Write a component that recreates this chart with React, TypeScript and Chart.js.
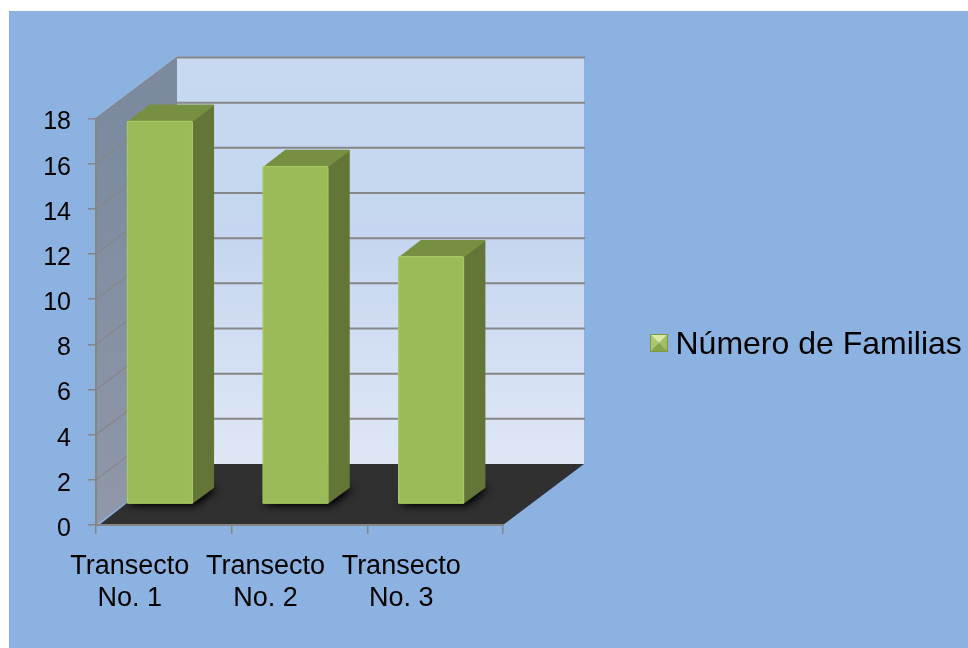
import React, { useEffect, useRef } from "react";
import { Chart, registerables } from "chart.js";

Chart.register(...registerables);

const categories = [["Transecto", "No. 1"], ["Transecto", "No. 2"], ["Transecto", "No. 3"]];
const seriesName = "Número de Familias";
const familias = [17, 15, 11];
const yMin = 0;
const yMax = 18;
const yStep = 2;

const W = 968;
const H = 648;
const FONT = '"Liberation Sans", Arial, sans-serif';
const AREA = { left: 96, right: 503, top: 118.5, bottom: 525 };
const WALL = { dx: 81, dy: -61 };
const BAR_SHIFT = { dx: -4, dy: -20.5 };
const BAR_DEPTH = { dx: 21, dy: -16 };
const LEGEND_POS = { left: 643.5, top: 314.5 };
const GRID = "#868686";

function makeSwatch() {
  const c = document.createElement("canvas");
  c.width = 18;
  c.height = 23;
  const g = c.getContext("2d")!;
  const tri = (pts: number[][], col: string) => {
    g.fillStyle = col;
    g.beginPath();
    pts.forEach((p, i) => (i ? g.lineTo(p[0], p[1]) : g.moveTo(p[0], p[1])));
    g.closePath();
    g.fill();
  };
  tri([[0, 0], [18, 0], [9, 9]], "#dbe9a6");
  tri([[0, 0], [0, 18], [9, 9]], "#acc76c");
  tri([[18, 0], [18, 18], [9, 9]], "#a3be62");
  tri([[0, 18], [18, 18], [9, 9]], "#87a548");
  g.strokeStyle = "#7d9a42";
  g.lineWidth = 1;
  g.strokeRect(0.5, 0.5, 17, 17);
  return c;
}

function poly(ctx: CanvasRenderingContext2D, pts: number[][], fill: string | CanvasGradient) {
  ctx.fillStyle = fill;
  ctx.beginPath();
  pts.forEach((p, i) => (i ? ctx.lineTo(p[0], p[1]) : ctx.moveTo(p[0], p[1])));
  ctx.closePath();
  ctx.fill();
}

const scene3d = {
  id: "scene3d",
  afterLayout(chart: any) {
    const l = chart.legend;
    if (!l) return;
    const w = l.width;
    const h = l.height;
    l.left = LEGEND_POS.left;
    l.top = LEGEND_POS.top;
    l.right = LEGEND_POS.left + w + 10;
    l.bottom = LEGEND_POS.top + h + 10;
  },
  beforeDraw(chart: any) {
    const ctx: CanvasRenderingContext2D = chart.ctx;
    const a = chart.chartArea;
    const ys = chart.scales.y;
    const { dx, dy } = WALL;
    ctx.save();
    ctx.fillStyle = "#8cb2e2";
    ctx.fillRect(9, 11, W - 9, H - 11);

    const back = ctx.createLinearGradient(0, a.top + dy, 0, a.bottom + dy);
    back.addColorStop(0, "#c6d9f1");
    back.addColorStop(0.45, "#c6d6f0");
    back.addColorStop(1, "#dfe7f5");
    poly(ctx, [[a.left + dx, a.top + dy], [a.right + dx, a.top + dy], [a.right + dx, a.bottom + dy], [a.left + dx, a.bottom + dy]], back);

    const side = ctx.createLinearGradient(0, a.top, 0, a.bottom);
    side.addColorStop(0, "#7b8a9e");
    side.addColorStop(1, "#9098a9");
    poly(ctx, [[a.left, a.top], [a.left + dx, a.top + dy], [a.left + dx, a.bottom + dy], [a.left, a.bottom]], side);

    poly(ctx, [[a.left + 3, a.bottom], [a.right, a.bottom], [a.right + dx, a.bottom + dy], [a.left + dx, a.bottom + dy]], "#303030");

    ys.ticks.forEach((t: any) => {
      const y = ys.getPixelForValue(t.value);
      ctx.strokeStyle = GRID;
      if (t.value !== yMin) {
        ctx.lineWidth = 1.2;
        ctx.beginPath();
        ctx.moveTo(a.left, y);
        ctx.lineTo(a.left + dx, y + dy);
        ctx.stroke();
        ctx.lineWidth = 2;
        ctx.beginPath();
        ctx.moveTo(a.left + dx, y + dy);
        ctx.lineTo(a.right + dx + 1, y + dy);
        ctx.stroke();
      }
    });
    ctx.restore();
  },
  beforeDatasetDraw(chart: any, args: any) {
    const ctx: CanvasRenderingContext2D = chart.ctx;
    const a = chart.chartArea;
    const { dx, dy } = BAR_DEPTH;
    const bars = args.meta.data;

    // soft contact shadows, on the floor only
    ctx.save();
    ctx.beginPath();
    ctx.moveTo(a.left, a.bottom);
    ctx.lineTo(a.right, a.bottom);
    ctx.lineTo(a.right + WALL.dx, a.bottom + WALL.dy);
    ctx.lineTo(a.left + WALL.dx, a.bottom + WALL.dy);
    ctx.closePath();
    ctx.clip();
    ctx.translate(BAR_SHIFT.dx, BAR_SHIFT.dy);
    ctx.shadowColor = "rgba(0,0,0,0.95)";
    ctx.shadowBlur = 8;
    ctx.shadowOffsetX = 2;
    bars.forEach((b: any) => {
      const l = b.x - b.width / 2;
      const r = b.x + b.width / 2;
      const q = [[l, b.base], [r, b.base], [r + dx, b.base + dy], [l + dx, b.base + dy]];
      poly(ctx, q, "#222222");
      poly(ctx, q, "#222222");
    });
    ctx.restore();

    ctx.save();
    ctx.translate(BAR_SHIFT.dx, BAR_SHIFT.dy);
    bars.forEach((b: any) => {
      const l = b.x - b.width / 2;
      const r = b.x + b.width / 2;
      poly(ctx, [[r - 1, b.y], [r + dx, b.y + dy], [r + dx, b.base + dy], [r - 1, b.base]], "#647637");
      poly(ctx, [[l + 1, b.y + 1], [l + dx + 2, b.y + dy], [r + dx - 1, b.y + dy], [r + dx, b.y + dy + 1], [r, b.y + 1]], "#768f40");
      poly(ctx, [[l + 1, b.y + 1], [r - 1, b.y + 1], [r - 1, b.base], [l + 1, b.base]], "#9bbb59");
    });
  },
  afterDatasetDraw(chart: any) {
    chart.ctx.restore();
  },
};

export default function App() {
  const ref = useRef<HTMLCanvasElement>(null);
  useEffect(() => {
    const chart = new Chart(ref.current!, {
      type: "bar",
      data: {
        labels: categories,
        datasets: [
          {
            label: seriesName,
            data: familias,
            backgroundColor: "#9bbb59",
            borderColor: "#a6ca62",
            borderWidth: 1.5,
            borderSkipped: false,
            borderRadius: { topLeft: 2, topRight: 2, bottomLeft: 0, bottomRight: 0 },
            barPercentage: 0.49,
            categoryPercentage: 1,
            clip: false,
          } as any,
        ],
      },
      plugins: [scene3d as any],
      options: {
        responsive: false,
        animation: false,
        layout: { padding: { left: 0, top: AREA.top, right: W - AREA.right, bottom: 0 } },
        scales: {
          x: {
            grid: { display: true, drawOnChartArea: false, drawTicks: true, tickLength: 9, color: GRID, lineWidth: 1.5, offset: true },
            border: { display: true, color: GRID, width: 2 },
            ticks: { color: "#000000", font: { family: FONT, size: 27 }, padding: 16, labelOffset: -34, maxRotation: 0, minRotation: 0, autoSkip: false },
            afterFit: (s: any) => { s.height = H - AREA.bottom; },
          } as any,
          y: {
            min: yMin,
            max: yMax,
            grid: { display: true, drawOnChartArea: false, drawTicks: true, tickLength: 8, color: GRID, lineWidth: 1.5 },
            border: { display: true, color: GRID, width: 2 },
            ticks: { stepSize: yStep, color: "#000000", font: { family: FONT, size: 25 }, padding: 17, labelOffset: 4 },
            afterFit: (s: any) => { s.width = AREA.left; },
          } as any,
        },
        plugins: {
          title: { display: false },
          tooltip: { enabled: false },
          legend: {
            display: true,
            position: "chartArea",
            align: "start",
            labels: {
              color: "#000000",
              font: { family: FONT, size: 32 },
              usePointStyle: true,
              pointStyle: makeSwatch(),
              pointStyleWidth: 1,
              boxHeight: 18,
              padding: 15,
            },
          } as any,
        },
      },
    });
    return () => chart.destroy();
  }, []);
  return (
    <div style={{ position: "fixed", left: 0, top: 0, width: W, height: H, background: "#ffffff" }}>
      <canvas ref={ref} width={W} height={H} style={{ display: "block" }} />
    </div>
  );
}
